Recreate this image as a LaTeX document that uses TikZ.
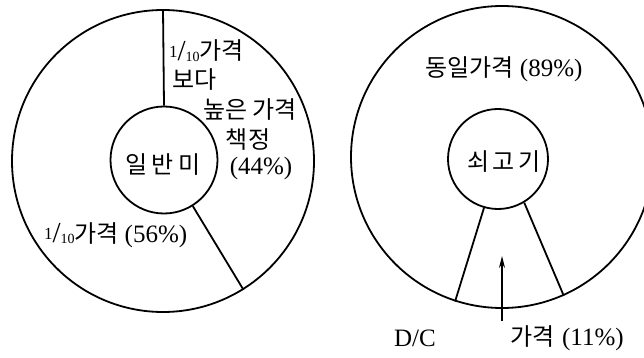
\documentclass[tikz,border=0pt]{standalone}
\usepackage{fontspec}
\setmainfont{Liberation Serif}
\newfontfamily\kr{Noto Sans CJK KR}
\usetikzlibrary{arrows.meta}
\newcommand{\tenth}{{\raisebox{0.28em}{\fontsize{17}{17}\selectfont 1}\raisebox{-0.04em}{\fontsize{29}{29}\selectfont /}\raisebox{-0.14em}{\fontsize{14}{14}\selectfont 10}}}
\newcommand{\K}[1]{{\kr\fontsize{24}{28}\selectfont #1}}
\newcommand{\N}[1]{{\fontsize{25}{29}\selectfont #1}}
\begin{document}
\begin{tikzpicture}[x=1pt,y=-1pt,
  ring/.style={circle,draw,line width=1.8pt,inner sep=0pt},
  seg/.style={line width=1.8pt},
  lab/.style={inner sep=0pt,outer sep=0pt}]
\useasboundingbox (0,0) rectangle (644,358);
% left chart
\node[ring,minimum size=302pt] (L) at (163,161) {};
\node[ring,minimum size=107pt] (Li) at (164,160) {};
\node[lab] (tLi) at (163,165) {\K{일\kern4pt반\kern4pt미}};
\draw[seg] (Li.north) -- (L.north);
\draw[seg] (Li.-58) -- (L.-58);
\node[lab,anchor=west] (t1) at (169,51) {\tenth\K{가격}};
\node[lab,anchor=west] (t2) at (172,80) {\K{보다}};
\node[lab] (t3) at (250,110) {\K{높은 가격}};
\node[lab] (t4) at (248,140) {\K{책정}};
\node[lab] (t5) at (261,168) {\N{(44\%)}};
\node[lab,anchor=west] (t6) at (44,235) {\tenth\K{가격}\kern6pt\N{(56\%)}};
% right chart
\node[ring,minimum size=302pt] (R) at (502,157) {};
\node[ring,minimum size=100pt] (Ri) at (498,159) {};
\node[lab] (tRi) at (504,162) {\K{쇠\kern3pt고\kern3pt기}};
\draw[seg] (Ri.-106) -- (R.-108);
\draw[seg] (Ri.-59) -- (R.-66);
\node[lab] (t7) at (504,69) {\K{동일가격}\kern6pt\N{(89\%)}};
\node[lab,anchor=west] (t8) at (394,338) {\N{D/C}};
\node[lab,anchor=west] (t9) at (510,338) {\K{가격}\kern8pt\N{(11\%)}};
\coordinate (ab) at (502,321);
\coordinate (at) at (502,256);
\draw[seg,line width=1.5pt,-{Stealth[length=12pt,width=6pt]}] (ab) -- (at);
\end{tikzpicture}
\end{document}
